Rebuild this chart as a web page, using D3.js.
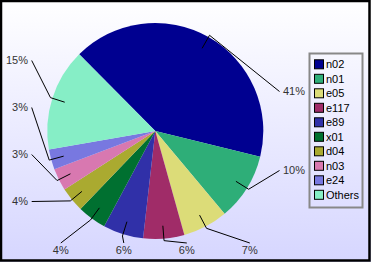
<!DOCTYPE html>
<html>
<head>
<meta charset="utf-8">
<script src="https://cdn.jsdelivr.net/npm/d3@7"></script>
<style>
  body { margin: 0; }
  svg { display: block; font-family: "Liberation Sans", Arial, sans-serif; }
</style>
</head>
<body>
<svg id="chart"></svg>
<script>
// chart data
const names = ['n02', 'n01', 'e05', 'e117', 'e89', 'x01', 'd04', 'n03', 'e24', 'Others'];
const values = [41, 10, 6.7, 6.1, 6.0, 4.3, 3.7, 3.3, 3.0, 15.2];
const colors = ['#000090', '#2eae78', '#dcdc78', '#a02c68', '#3030a8',
                '#007030', '#aaaa30', '#d878b0', '#7878e0', '#86eec6'];

const width = 371, height = 262;
const cx = 155.3, cy = 131, radius = 108;

const svg = d3.select('#chart')
    .attr('width', width)
    .attr('height', height);

// background gradient
const defs = svg.append('defs');
const bg = defs.append('linearGradient')
    .attr('id', 'bg')
    .attr('x1', 0).attr('y1', 0).attr('x2', 0).attr('y2', 1);
bg.append('stop').attr('offset', '0%').attr('stop-color', '#ffffff');
bg.append('stop').attr('offset', '100%').attr('stop-color', '#d6d6ff');

svg.append('rect')
    .attr('width', width).attr('height', height)
    .attr('fill', 'url(#bg)');
svg.append('rect')
    .attr('x', 1).attr('y', 1)
    .attr('width', width - 2.5).attr('height', height - 2.5)
    .attr('fill', 'none')
    .attr('stroke', '#000')
    .attr('stroke-width', 2.5);

// pie
const total = d3.sum(values);
const pie = d3.pie()
    .sort(null)
    .startAngle(-44.8 * Math.PI / 180)
    .endAngle((360 - 44.8) * Math.PI / 180);
const arcs = pie(values);

const arc = d3.arc().innerRadius(0).outerRadius(radius);

const g = svg.append('g')
    .attr('transform', `translate(${cx},${cy})`);

g.selectAll('path.slice')
    .data(arcs)
    .join('path')
    .attr('class', 'slice')
    .attr('d', arc)
    .attr('fill', (d, i) => colors[i]);

// label layout: labels sit on three sides of the pie
const fmt = v => Math.round(v / total * 100) + '%';
const mid = d => (d.startAngle + d.endAngle) / 2;
const midDeg = d => mid(d) * 180 / Math.PI;

const sides = {right: [], bottom: [], left: []};
arcs.forEach((d, i) => {
    const a = midDeg(d);
    d.index = i;
    if (a < 135) sides.right.push(d);
    else if (a < 225) sides.bottom.push(d);
    else sides.left.push(d);
});

const labels = [];
sides.right.forEach((d, i, arr) => {
    const y = cy + (i - (arr.length - 1) / 2) * 79;
    labels.push({d, ax: 279.5, ay: y, tx: 283, ty: y, anchor: 'start'});
});
sides.bottom.forEach((d, i, arr) => {
    const x = cx + ((arr.length - 1) / 2 - i) * 63;
    labels.push({d, ax: x, ay: 243, tx: x, ty: 250, anchor: 'middle'});
});
sides.left.forEach((d, i, arr) => {
    const y = cy + ((arr.length - 1) / 2 - i) * 47;
    labels.push({d, ax: 31.7, ay: y, tx: 28, ty: y, anchor: 'end'});
});

const polar = (a, r) => [cx + Math.sin(a) * r, cy - Math.cos(a) * r];

svg.append('g')
    .selectAll('polyline')
    .data(labels)
    .join('polyline')
    .attr('points', l => {
        const p0 = polar(mid(l.d), radius * 0.88);
        const p1 = polar(mid(l.d), radius + 2);
        return [p0, p1, [l.ax, l.ay]].map(p => p.join(',')).join(' ');
    })
    .attr('fill', 'none')
    .attr('stroke', '#000')
    .attr('stroke-width', 1);

svg.append('g')
    .selectAll('text')
    .data(labels)
    .join('text')
    .attr('x', l => l.tx)
    .attr('y', l => l.ty)
    .attr('dy', '0.36em')
    .attr('text-anchor', l => l.anchor)
    .attr('font-size', 11)
    .attr('fill', '#333')
    .text(l => fmt(l.d.value));

// legend
const legend = svg.append('g');
legend.append('rect')
    .attr('x', 309.5).attr('y', 53.5)
    .attr('width', 53).attr('height', 154)
    .attr('fill', 'none')
    .attr('stroke', '#888')
    .attr('stroke-width', 2);

const rows = legend.selectAll('g.row')
    .data(names)
    .join('g')
    .attr('class', 'row')
    .attr('transform', (d, i) => `translate(314,${64.3 + i * 14.5})`);

rows.append('rect')
    .attr('x', 0.5).attr('y', -4.5)
    .attr('width', 9).attr('height', 9)
    .attr('fill', (d, i) => colors[i])
    .attr('stroke', '#000')
    .attr('stroke-width', 1);

rows.append('text')
    .attr('x', 12)
    .attr('dy', '0.36em')
    .attr('font-size', 11)
    .attr('fill', '#000')
    .text(d => d);
</script>
</body>
</html>
